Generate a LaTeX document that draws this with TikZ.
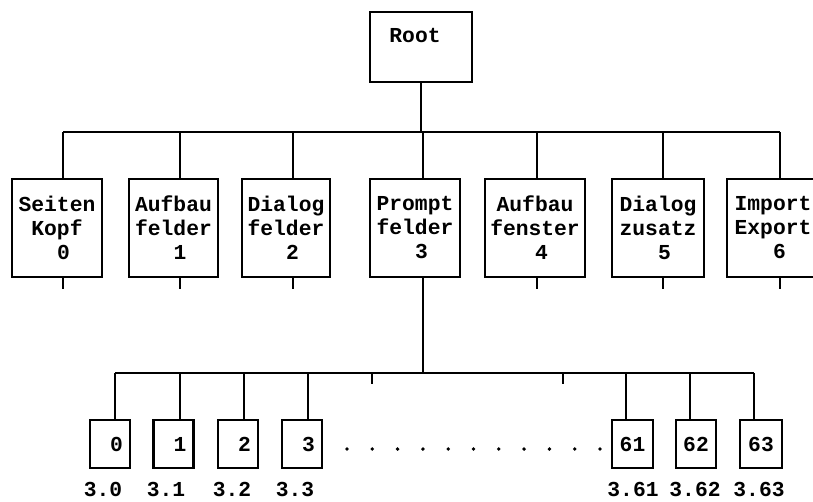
\documentclass[tikz,border=0pt]{standalone}
\usepackage{fontspec}
\setmonofont{Liberation Mono}
\begin{document}
\begin{tikzpicture}[x=1pt,y=-1pt,
  line width=2.6pt,
  txt/.style={font=\ttfamily\bfseries\fontsize{21.3}{24}\selectfont, inner sep=0pt},
  bigbox/.style={draw, txt, align=center, minimum height=98pt},
  smallbox/.style={draw, txt, minimum width=40pt, minimum height=48pt},
  dotmark/.style={fill, circle, inner sep=0pt, minimum size=3.8pt}]
\clip (0,0) rectangle (813,501);
% root
\node[draw, minimum width=102pt, minimum height=70pt] (root) at (421,47) {};
\node[txt] (roottxt) at (415,36) {Root};
% level 1 boxes
\node[bigbox, minimum width=90pt]  (s0) at (57,228)  {Seiten\\Kopf\\\hphantom{0}0};
\node[bigbox, minimum width=89pt]  (s1) at (173.5,228) {Aufbau\\felder\\\hphantom{0}1};
\node[bigbox, minimum width=88pt]  (s2) at (286,228) {Dialog\\felder\\\hphantom{0}2};
\node[bigbox, minimum width=90pt]  (s3) at (415,228) {Prompt\\felder\\\hphantom{0}3};
\node[bigbox, minimum width=100pt] (s4) at (535,228) {Aufbau\\fenster\\\hphantom{0}4};
\node[bigbox, minimum width=92pt]  (s5) at (658,228) {Dialog\\zusatz\\\hphantom{0}5};
\node[bigbox, minimum width=92pt]  (s6) at (773,228) {Import\\Export\\\hphantom{0}6};
% top bar
\coordinate (t0) at (63,132);
\coordinate (t1) at (180,132);
\coordinate (t2) at (293,132);
\coordinate (t3) at (423,132);
\coordinate (t4) at (537,132);
\coordinate (t5) at (663,132);
\coordinate (t6) at (780,132);
\draw (t0) -- (t6);
\draw (root.south) -- (root.south |- t0);
\foreach \i in {0,1,2,4,5,6}{
  \draw (t\i) -- (t\i |- s\i.north);
  \draw (t\i |- s\i.south) -- ++(0,11);
}
\draw (t3) -- (t3 |- s3.north);
% lower bar
\coordinate (b0) at (115,373);
\coordinate (b1) at (180,373);
\coordinate (b2) at (244,373);
\coordinate (b3) at (308,373);
\coordinate (b61) at (626,373);
\coordinate (b62) at (690,373);
\coordinate (b63) at (754,373);
\coordinate (k1) at (372,373);
\coordinate (k2) at (563,373);
\draw (t3 |- s3.south) -- (t3 |- b0);
\draw (b0) -- (b63);
\draw (k1) -- ++(0,11);
\draw (k2) -- ++(0,11);
% bottom boxes
\node[smallbox] (n0) at (110,444) {\hphantom{0}0};
\node[smallbox] (n1) at (173.5,444) {\hphantom{0}1};
\node[smallbox] (n2) at (238,444) {\hphantom{0}2};
\node[smallbox] (n3) at (302,444) {\hphantom{0}3};
\node[smallbox, minimum width=41pt] (n61) at (632.5,444) {61};
\node[smallbox] (n62) at (696,444) {62};
\node[smallbox, minimum width=42pt] (n63) at (761,444) {63};
\foreach \i in {0,1,2,3,61,62,63}{
  \draw (b\i) -- (b\i |- n\i.north);
}
% dots
\foreach \j in {0,...,10}{
  \node[dotmark] (dot\j) at (347+25.3*\j,449) {};
}
% labels
\node[txt] (l0) at (103,489) {3.0};
\node[txt] (l1) at (166,489) {3.1};
\node[txt] (l2) at (232,489) {3.2};
\node[txt] (l3) at (295,489) {3.3};
\node[txt] (l61) at (633,489) {3.61};
\node[txt] (l62) at (695,489) {3.62};
\node[txt] (l63) at (759,489) {3.63};
\end{tikzpicture}
\end{document}
